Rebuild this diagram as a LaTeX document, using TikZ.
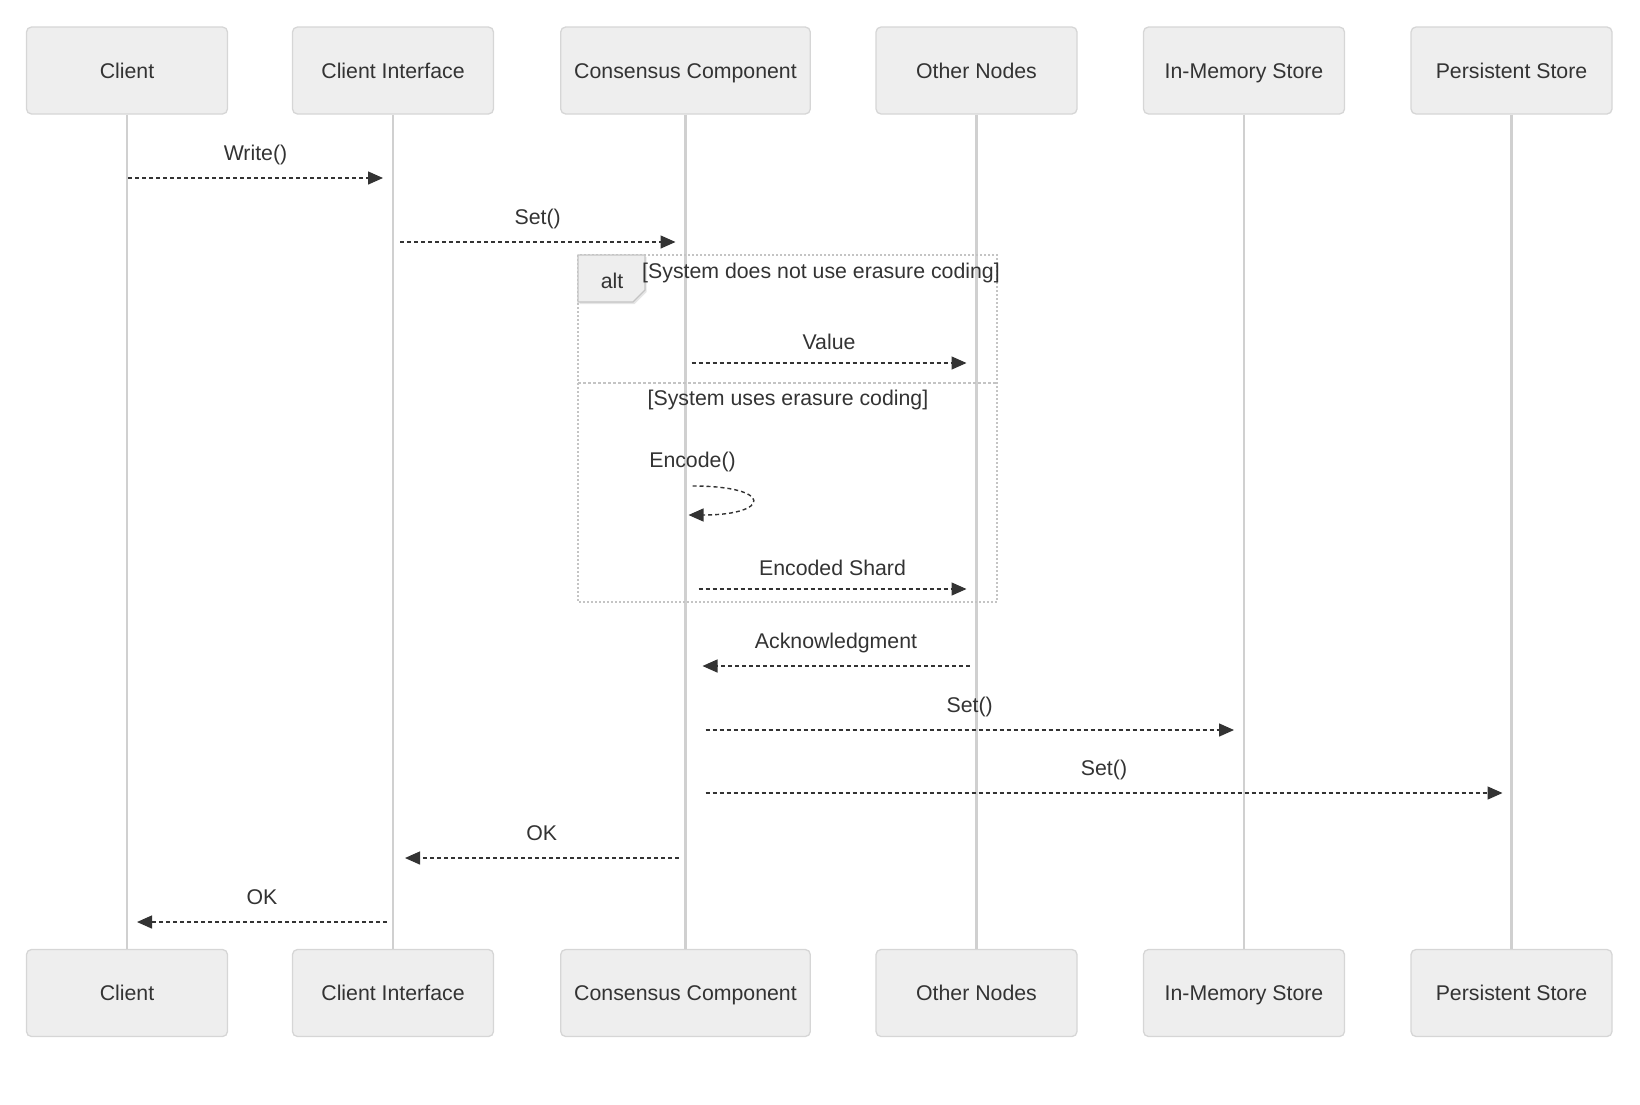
\documentclass[tikz,border=0pt]{standalone}
\usepackage{fontspec}
\setmainfont{Liberation Sans}
\usetikzlibrary{arrows.meta,shadows}

\definecolor{boxfill}{HTML}{EEEEEE}
\definecolor{boxline}{HTML}{D6D6D6}
\definecolor{lifegray}{HTML}{D0D0D0}
\definecolor{framegray}{HTML}{C4C4C4}
\definecolor{ink}{HTML}{333333}

\tikzset{
  actor/.style={draw=boxline, fill=boxfill, rectangle, rounded corners=5pt,
    line width=1.3pt, minimum width=201pt, minimum height=87pt,
    inner xsep=13.5pt, text height=17pt, text depth=2pt,
    text=ink, font=\fontsize{21.3}{26}\selectfont},
  life/.style={draw=lifegray, line width=2.2pt},
  msg/.style={draw=ink, line width=1.4pt, dash pattern=on 4pt off 3pt,
    -{Triangle[length=15pt,width=13pt]}},
  lbl/.style={text=ink, inner sep=0pt, font=\fontsize{21.3}{26}\selectfont},
  frame/.style={draw=framegray, line width=2pt},
  tab/.style={draw=framegray, fill=boxfill, line width=1.3pt,
    drop shadow={shadow xshift=1.5pt, shadow yshift=-2pt, opacity=0.2}}
}

\begin{document}
\begin{tikzpicture}[x=1pt,y=-1pt]
\useasboundingbox (0,0) rectangle (1640,1104);

% participants
\node[actor] (C) at (127,70.5) {Client};%
\node[actor] (CI) at (393,70.5) {Client Interface};%
\node[actor] (CC) at (685.5,70.5) {Consensus Component};%
\node[actor] (ON) at (976.5,70.5) {Other Nodes};%
\node[actor] (IM) at (1244,70.5) {In-Memory Store};%
\node[actor] (PS) at (1511.5,70.5) {Persistent Store};%

\node[actor] (Cb) at (127,993) {Client};%
\node[actor] (CIb) at (393,993) {Client Interface};%
\node[actor] (CCb) at (685.5,993) {Consensus Component};%
\node[actor] (ONb) at (976.5,993) {Other Nodes};%
\node[actor] (IMb) at (1244,993) {In-Memory Store};%
\node[actor] (PSb) at (1511.5,993) {Persistent Store};%

% lifelines
\draw[life] (C) -- (Cb);
\draw[life] (CI) -- (CIb);
\draw[life] (CC) -- (CCb);
\draw[life] (ON) -- (ONb);
\draw[life] (IM) -- (IMb);
\draw[life] (PS) -- (PSb);

% message rows
\coordinate (r1) at (0,178);
\coordinate (r2) at (0,242);
\coordinate (r3) at (0,363);
\coordinate (r4a) at (0,486);
\coordinate (r4b) at (0,515);
\coordinate (r5) at (0,589);
\coordinate (r6) at (0,666);
\coordinate (r7) at (0,730);
\coordinate (r8) at (0,793);
\coordinate (r9) at (0,858);
\coordinate (r10) at (0,922);

% alt frame
\draw[frame, dotted] (578,255) rectangle (997,602);
\draw[frame, dash pattern=on 3pt off 2pt] (578,383) -- (997,383);
\filldraw[tab] (578,255) -- (645,255) -- (645,290) -- (633,302) -- (578,302) -- cycle;
\node[lbl, anchor=base] (alt) at (612,288) {alt};
\node[lbl, anchor=base] (G1) at (821,278) {[System does not use erasure coding]};
\node[lbl, anchor=base] (G2) at (788,405) {[System uses erasure coding]};

% messages
\draw[msg] ([xshift=1pt]C |- r1) -- ([xshift=-10pt]CI |- r1)
  node[lbl, midway, anchor=base, yshift=18pt] {Write()};
\draw[msg] ([xshift=7pt]CI |- r2) -- ([xshift=-10pt]CC |- r2)
  node[lbl, midway, anchor=base, yshift=18pt] {Set()};
\draw[msg] ([xshift=6pt]CC |- r3) -- ([xshift=-10pt]ON |- r3)
  node[lbl, midway, anchor=base, yshift=14pt] {Value};
\node[lbl, anchor=base] (E) at ([xshift=7pt]CC |- 0,467) {Encode()};
\draw[msg] ([xshift=7pt]CC |- r4a) .. controls +(82,0) and +(82,0) .. ([xshift=3pt]CC |- r4b);
\draw[msg] ([xshift=13pt]CC |- r5) -- ([xshift=-10pt]ON |- r5)
  node[lbl, midway, anchor=base, yshift=14pt] {Encoded Shard};
\draw[msg] ([xshift=-7pt]ON |- r6) -- ([xshift=17pt]CC |- r6)
  node[lbl, midway, anchor=base, yshift=18pt] {Acknowledgment};
\draw[msg] ([xshift=20pt]CC |- r7) -- ([xshift=-10pt]IM |- r7)
  node[lbl, midway, anchor=base, yshift=18pt] {Set()};
\draw[msg] ([xshift=20pt]CC |- r8) -- ([xshift=-9pt]PS |- r8)
  node[lbl, midway, anchor=base, yshift=18pt] {Set()};
\draw[msg] ([xshift=-7pt]CC |- r9) -- ([xshift=12pt]CI |- r9)
  node[lbl, midway, anchor=base, yshift=18pt] {OK};
\draw[msg] ([xshift=-6pt]CI |- r10) -- ([xshift=10pt]C |- r10)
  node[lbl, midway, anchor=base, yshift=18pt] {OK};
\end{tikzpicture}
\end{document}
